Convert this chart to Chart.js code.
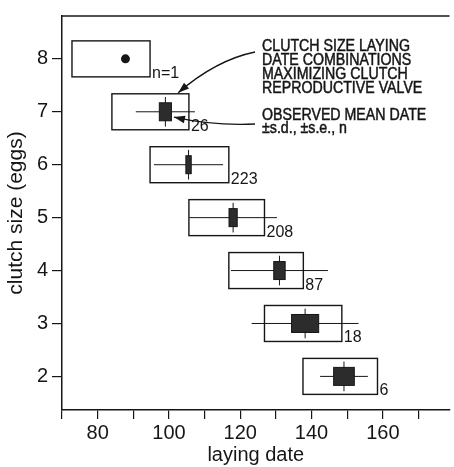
<!DOCTYPE html>
<html>
<head>
<meta charset="utf-8">
<script src="https://cdn.jsdelivr.net/npm/chart.js@4.4.0/dist/chart.umd.min.js"></script>
<style>
  html, body { margin: 0; padding: 0; background: #fff; }
</style>
</head>
<body>
<canvas id="clutch-chart" width="454" height="467"></canvas>
<script>
// Tamaño de puesta (huevos)
const clutchSizes = [8, 7, 6, 5, 4, 3, 2];
// Fechas de puesta que maximizan el valor reproductivo (límites de cada rectángulo)
const optimumFrom = [72.8, 84.0, 94.7, 105.6, 116.8, 126.8, 137.6];
const optimumTo = [94.7, 105.6, 116.8, 126.8, 137.7, 148.5, 158.5];
// Fecha media observada, desviación estándar y error estándar
const meanDate = [87.8, 99.0, 105.5, 118.0, 131.0, 138.2, 149.1];
const sdDate = [0, 8.3, 9.7, 12.3, 13.6, 15.0, 6.7];
const seDate = [0, 1.7, 0.75, 1.15, 1.6, 3.8, 2.9];
const nLabels = ['n=1', '26', '223', '208', '87', '18', '6'];

// Marcas de los ejes
const xTicks = [70, 80, 90, 100, 110, 120, 130, 140, 150, 160, 170];
const xTickLabels = [80, 100, 120, 140, 160];
const yTicks = [2, 3, 4, 5, 6, 7, 8];

const ink = '#161616';
const fontFamily = '"Liberation Sans", Arial, Helvetica, sans-serif';

// Rectángulos, líneas de ±s.d. y cajas de ±s.e.
const boxesPlugin = {
  id: 'boxes',
  beforeDatasetsDraw(chart) {
    const { ctx, scales: { x, y } } = chart;
    ctx.save();
    ctx.strokeStyle = ink;
    clutchSizes.forEach((size, i) => {
      const x0 = x.getPixelForValue(optimumFrom[i]);
      const x1 = x.getPixelForValue(optimumTo[i]);
      const yTop = y.getPixelForValue(size + 0.34);
      const yBot = y.getPixelForValue(size - 0.34);
      ctx.lineWidth = 1.4;
      ctx.strokeRect(x0, yTop, x1 - x0, yBot - yTop);

      if (sdDate[i] > 0) {
        const yc = y.getPixelForValue(size);
        const xm = x.getPixelForValue(meanDate[i]);
        ctx.lineWidth = 1;
        ctx.beginPath();
        ctx.moveTo(x.getPixelForValue(meanDate[i] - sdDate[i]), yc);
        ctx.lineTo(x.getPixelForValue(meanDate[i] + sdDate[i]), yc);
        ctx.moveTo(xm, y.getPixelForValue(size + 0.28));
        ctx.lineTo(xm, y.getPixelForValue(size - 0.28));
        ctx.stroke();

        const s0 = x.getPixelForValue(meanDate[i] - seDate[i]);
        const s1 = x.getPixelForValue(meanDate[i] + seDate[i]);
        const sTop = y.getPixelForValue(size + 0.17);
        const sBot = y.getPixelForValue(size - 0.17);
        ctx.fillStyle = '#2c2c2c';
        ctx.fillRect(s0, sTop, s1 - s0, sBot - sTop);
        ctx.strokeRect(s0, sTop, s1 - s0, sBot - sTop);
      }

      // Número de nidos
      ctx.fillStyle = ink;
      ctx.font = '16px ' + fontFamily;
      ctx.textBaseline = 'alphabetic';
      ctx.textAlign = 'left';
      ctx.fillText(nLabels[i], x1 + 2, yBot + 1);
    });
    ctx.restore();
  }
};

// Dibuja una flecha curva con la punta rellena
function drawArrow(ctx, sx, sy, cx, cy, tx, ty) {
  ctx.beginPath();
  ctx.moveTo(sx, sy);
  ctx.quadraticCurveTo(cx, cy, tx, ty);
  ctx.stroke();
  const ang = Math.atan2(ty - cy, tx - cx);
  const len = 11, half = 3.8;
  ctx.beginPath();
  ctx.moveTo(tx, ty);
  ctx.lineTo(tx - len * Math.cos(ang) + half * Math.sin(ang), ty - len * Math.sin(ang) - half * Math.cos(ang));
  ctx.lineTo(tx - len * Math.cos(ang) - half * Math.sin(ang), ty - len * Math.sin(ang) + half * Math.cos(ang));
  ctx.closePath();
  ctx.fill();
}

// Marco superior, leyenda en texto y flechas
const notesPlugin = {
  id: 'notes',
  afterDraw(chart) {
    const { ctx, chartArea, scales: { x, y } } = chart;
    ctx.save();
    ctx.strokeStyle = ink;
    ctx.fillStyle = ink;
    ctx.lineWidth = 1.5;
    ctx.beginPath();
    ctx.moveTo(chartArea.left, chartArea.top);
    ctx.lineTo(chartArea.right, chartArea.top);
    ctx.stroke();

    const lines = [
      ['CLUTCH SIZE LAYING', 51],
      ['DATE COMBINATIONS', 65],
      ['MAXIMIZING CLUTCH', 79],
      ['REPRODUCTIVE VALVE', 93],
      ['OBSERVED MEAN DATE', 120],
      ['\u00b1s.d., \u00b1s.e., n', 133]
    ];
    ctx.font = '16.5px ' + fontFamily;
    ctx.textBaseline = 'alphabetic';
    ctx.lineWidth = 0.5;
    lines.forEach(([text, base]) => {
      ctx.save();
      ctx.translate(262, base);
      ctx.scale(0.86, 1);
      ctx.fillText(text, 0, 0);
      ctx.strokeText(text, 0, 0);
      ctx.restore();
    });

    // Flecha hacia el rectángulo de 7 huevos
    ctx.lineWidth = 1.4;
    const t1x = x.getPixelForValue(optimumTo[1] - 3);
    const t1y = y.getPixelForValue(clutchSizes[1] + 0.36);
    drawArrow(ctx, 255, 52, 216, 60, t1x, t1y);
    // Flecha hacia la fecha media observada
    const t2x = x.getPixelForValue(meanDate[1] + seDate[1] + 0.7);
    const t2y = y.getPixelForValue(clutchSizes[1] - 0.1);
    drawArrow(ctx, 255, 124, 214, 126, t2x, t2y);
    ctx.restore();
  }
};

const chartCanvas = document.getElementById('clutch-chart');

const chart = new Chart(chartCanvas, {
  type: 'scatter',
  data: {
    datasets: [
      {
        label: 'observed mean date',
        data: clutchSizes.map((size, i) => ({ x: meanDate[i], y: size })),
        pointRadius: (c) => (sdDate[c.dataIndex] > 0 ? 0 : 4.5),
        pointBackgroundColor: ink,
        pointBorderColor: ink,
        pointBorderWidth: 0
      }
    ]
  },
  options: {
    responsive: false,
    animation: false,
    layout: { padding: { top: 8, right: 0, bottom: 0, left: 0 } },
    plugins: {
      legend: { display: false },
      tooltip: { enabled: false }
    },
    scales: {
      x: {
        type: 'linear',
        min: 70,
        max: 178.7,
        afterBuildTicks: (s) => { s.ticks = xTicks.map((v) => ({ value: v })); },
        afterFit: (s) => { s.height = 57; },
        ticks: {
          autoSkip: false,
          maxRotation: 0,
          padding: 2,
          color: ink,
          font: { size: 20, family: fontFamily },
          callback: (v) => (xTickLabels.includes(v) ? String(v) : '')
        },
        grid: { drawOnChartArea: false, tickLength: 9, color: ink, lineWidth: 1.2 },
        border: { color: ink, width: 1.5 },
        title: {
          display: true,
          text: 'laying date',
          color: ink,
          font: { size: 20, family: fontFamily },
          padding: { top: 0, bottom: 0 }
        }
      },
      y: {
        type: 'linear',
        min: 1.365,
        max: 8.81,
        afterBuildTicks: (s) => { s.ticks = yTicks.map((v) => ({ value: v })); },
        afterFit: (s) => { s.width = 62; },
        ticks: {
          padding: 4,
          color: ink,
          font: { size: 20, family: fontFamily }
        },
        grid: { drawOnChartArea: false, tickLength: 10, color: ink, lineWidth: 1.2 },
        border: { color: ink, width: 1.5 },
        title: {
          display: true,
          text: 'clutch size (eggs)',
          color: ink,
          font: { size: 21, family: fontFamily },
          padding: { top: 4, bottom: 0 }
        }
      }
    }
  },
  plugins: [boxesPlugin, notesPlugin]
});
</script>
</body>
</html>
